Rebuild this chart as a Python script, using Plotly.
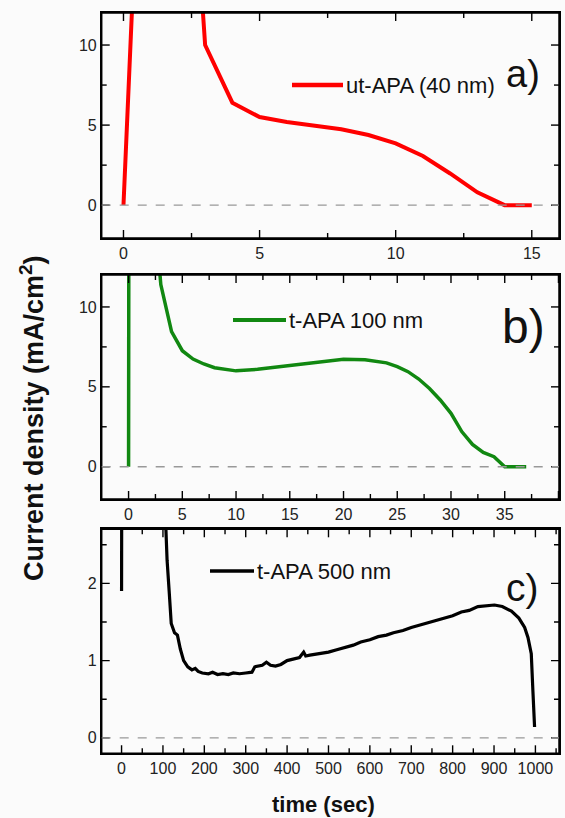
import plotly.graph_objects as go
from plotly.subplots import make_subplots

# panel a) ut-APA (40 nm)
time_a = [0, 1, 2, 3, 4, 5, 6, 7, 8, 9, 10, 11, 12, 13, 14, 15]
curr_a = [0, 39, 35, 10, 6.4, 5.5, 5.2, 4.97, 4.74, 4.38, 3.86, 3.07, 1.98, 0.8, 0, 0]

# panel b) t-APA 100 nm
time_b = [0, 0.05, 2.8, 3, 4, 5, 6, 7, 8, 10, 12, 14, 16, 18, 20, 22, 24, 25, 26,
          27, 28, 29, 30, 31, 32, 33, 34, 35, 37]
curr_b = [0, 30, 13, 11.4, 8.45, 7.26, 6.74, 6.43, 6.2, 6.0, 6.1, 6.26, 6.45, 6.6,
          6.72, 6.7, 6.5, 6.26, 5.95, 5.49, 4.9, 4.18, 3.34, 2.2, 1.4, 0.9, 0.63, 0, 0]

# panel c) t-APA 500 nm
time_c = [0, 1, 105, 110, 115, 120, 128, 135, 142, 150, 160, 170, 178, 185, 195,
          210, 220, 232, 245, 258, 270, 285, 300, 315, 322, 330, 340, 350, 360,
          372, 385, 400, 415, 430, 440, 445, 455, 470, 485, 500, 520, 540, 560,
          578, 600, 620, 640, 657, 680, 700, 720, 740, 760, 780, 800, 821, 840,
          861, 880, 901, 920, 942, 960, 974, 982, 990, 994, 998]
curr_c = [1.9, 5, 3.0, 2.3, 1.9, 1.48, 1.36, 1.33, 1.15, 1.0, 0.92, 0.88, 0.9,
          0.86, 0.84, 0.83, 0.85, 0.82, 0.83, 0.82, 0.84, 0.83, 0.84, 0.85, 0.92,
          0.93, 0.94, 0.98, 0.94, 0.93, 0.95, 1.0, 1.02, 1.04, 1.11, 1.06, 1.07,
          1.08, 1.1, 1.11, 1.14, 1.17, 1.2, 1.24, 1.27, 1.31, 1.33, 1.36, 1.39,
          1.43, 1.46, 1.5, 1.52, 1.56, 1.58, 1.63, 1.65, 1.7, 1.71, 1.72, 1.7,
          1.64, 1.55, 1.43, 1.3, 1.09, 0.6, 0.14]

names = ["ut-APA (40 nm)", "t-APA 100 nm", "t-APA 500 nm"]
colors = ["#ff0000", "#118811", "#000000"]
widths = [4, 3.5, 3.2]

W, H = 565, 818
FONT = "Arial"

fig = make_subplots(rows=3, cols=1)
for i, (t, j) in enumerate([(time_a, curr_a), (time_b, curr_b), (time_c, curr_c)]):
    fig.add_trace(go.Scatter(x=t, y=j, mode="lines", name=names[i], showlegend=False,
                             line=dict(color=colors[i], width=widths[i])), row=i + 1, col=1)

X0, X1 = 101.7, 559
ypix = [(13, 238), (275, 499), (529.3, 753.3)]
xranges = [[-0.8, 16.0], [-2.5, 40.05], [-48, 1057]]
yranges = [[-2.05, 12], [-2.02, 12], [-0.2, 2.7]]
xdt = [5, 5, 100]
ydt = [5, 5, 1]
MAJ, MIN = 8, 5  # tick lengths, px


def half_ticks(lo, hi, step):
    # labelled ticks every step, unlabelled ones halfway between
    out = []
    k = 0
    while k * step / 2 <= hi + 1e-9:
        v = k * step / 2
        if v >= lo:
            out.append((v, k % 2 == 0))
        k += 1
    return out


tick_line = dict(color="black", width=1.4)
for i in range(3):
    xr = "x" if i == 0 else f"x{i + 1}"
    yr = "y" if i == 0 else f"y{i + 1}"
    top, bot = ypix[i]
    pw, ph = X1 - X0, bot - top
    xt = half_ticks(xranges[i][0], xranges[i][1], xdt[i])
    yt = half_ticks(yranges[i][0], yranges[i][1], ydt[i])

    ax = dict(showline=True, linecolor="black", linewidth=1.5, ticks="",
              showgrid=False, zeroline=False, mirror=True, tickmode="array",
              tickfont=dict(family=FONT, size=16, color="#222"))
    fig.update_xaxes(**ax, domain=[X0 / W, X1 / W], range=xranges[i],
                     tickvals=[v for v, m in xt if m], ticktext=[f"{v:g}" for v, m in xt if m],
                     row=i + 1, col=1)
    fig.update_yaxes(**ax, domain=[1 - bot / H, 1 - top / H], range=yranges[i],
                     tickvals=[v for v, m in yt if m], ticktext=[f"{v:g}" for v, m in yt if m],
                     row=i + 1, col=1)

    # frame and inward ticks on all four sides
    fig.add_shape(type="rect", xref=f"{xr} domain", yref=f"{yr} domain",
                  x0=0, x1=1, y0=0, y1=1, line=dict(color="black", width=1.5))
    for v, major in xt:
        d = (MAJ if major else MIN) / ph
        for y0, y1 in [(0, d), (1, 1 - d)]:
            fig.add_shape(type="line", xref=xr, yref=f"{yr} domain", x0=v, x1=v,
                          y0=y0, y1=y1, line=tick_line)
    for v, major in yt:
        d = (MAJ if major else MIN) / pw
        for x0, x1 in [(0, d), (1, 1 - d)]:
            fig.add_shape(type="line", xref=f"{xr} domain", yref=yr, x0=x0, x1=x1,
                          y0=v, y1=v, line=tick_line)

# dashed zero lines
fig.add_hline(y=0, line=dict(color="#999", width=1.3, dash="dash"), row="all", col=1)

# legend samples and labels
for i, (x0, x1, yp) in enumerate([(292, 343, 85), (233, 286, 320), (210, 254, 571)]):
    fig.add_shape(type="line", xref="paper", yref="paper", x0=x0 / W, x1=x1 / W,
                  y0=1 - yp / H, y1=1 - yp / H,
                  line=dict(color=colors[i], width=widths[i] + 0.5))
    fig.add_annotation(text=names[i], xref="paper", yref="paper", x=(x1 + 1) / W,
                       y=1 - yp / H, xanchor="left", yanchor="middle", showarrow=False,
                       font=dict(family=FONT, size=22, color="#111"))

for lab, xp, yp, sz in [("a)", 523, 74, 38), ("b)", 523, 327, 48), ("c)", 522, 587, 39)]:
    fig.add_annotation(text=lab, xref="paper", yref="paper", x=xp / W, y=1 - yp / H,
                       xanchor="center", yanchor="middle", showarrow=False,
                       font=dict(family=FONT, size=sz, color="#111"))

fig.add_annotation(text="<b>Current density (mA/cm<sup>2</sup>)</b>", xref="paper",
                   yref="paper", x=32 / W, y=1 - 418 / H, textangle=-90, showarrow=False,
                   xanchor="center", yanchor="middle",
                   font=dict(family=FONT, size=27, color="#111"))
fig.add_annotation(text="<b>time (sec)</b>", xref="paper", yref="paper",
                   x=323 / W, y=1 - 804 / H, showarrow=False,
                   xanchor="center", yanchor="middle",
                   font=dict(family=FONT, size=22, color="#111"))

fig.update_layout(width=W, height=H, margin=dict(l=0, r=0, t=0, b=0),
                  paper_bgcolor="#fbfbfb", plot_bgcolor="#fbfbfb", showlegend=False)

fig.write_html("out.html", post_script="document.body.style.margin='0';",
               config={"displayModeBar": False})
